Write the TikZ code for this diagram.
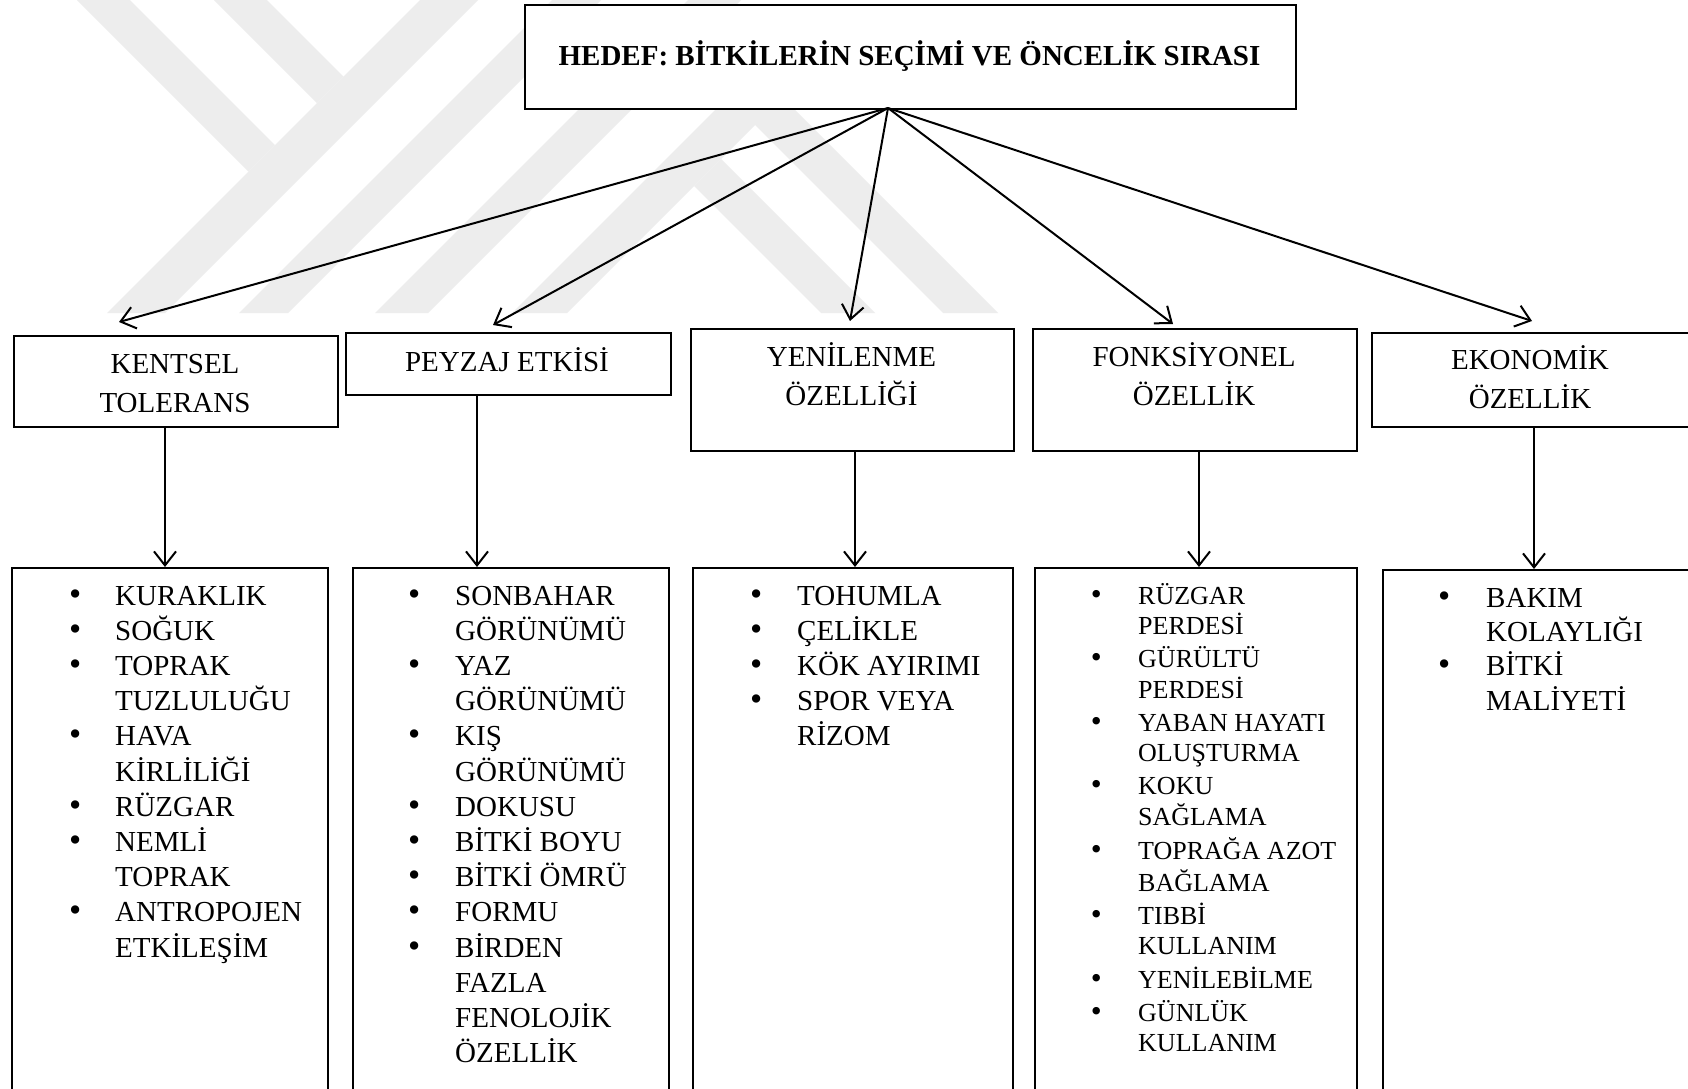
\documentclass[tikz,border=0pt]{standalone}
\usepackage{fontspec}
\usepackage{graphicx}
\setmainfont{Liberation Serif}
\usetikzlibrary{arrows.meta}
\newcommand\bu[1]{\makebox[0pt]{\scalebox{1.2}{\textbullet}}\hspace*{#1}}
\newcommand\ind[1]{\hspace*{#1}}
\tikzset{
  box/.style={draw, line width=2.1pt, fill=white, inner sep=0pt},
  conn/.style={line width=2pt, -{Straight Barb[length=14pt,width=22pt]}},
  wm/.style={fill=black!7, draw=none},
  lbl/.style={inner sep=0pt, anchor=base, font=\fontsize{29}{39}\selectfont},
  ttl/.style={inner sep=0pt, anchor=base, font=\bfseries\fontsize{29}{35}\selectfont},
  lst/.style={inner sep=0pt, anchor=base west, font=\fontsize{29}{35.2}\selectfont},
  lsts/.style={inner sep=0pt, anchor=base west, font=\fontsize{26}{30.2}\selectfont},
}
\begin{document}
\begin{tikzpicture}[x=1pt,y=-1pt]
\useasboundingbox (0,0) rectangle (1688,1088);
\fill[white] (0,0) rectangle (1688,1088);
% watermark
\fill[wm] (77,0) -- (130,0) -- (275,145) -- (248.5,171.5) -- cycle;
\fill[wm] (214,0) -- (267,0) -- (343.5,76.5) -- (317,103) -- cycle;
\fill[wm] (420,0) -- (478,0) -- (165,313) -- (107,313) -- cycle;
\fill[wm] (552,0) -- (601,0) -- (288,313) -- (239,313) -- cycle;
\fill[wm] (688,0) -- (741,0) -- (428,313) -- (375,313) -- cycle;
\fill[wm] (512,313) -- (755,70) -- (998,313) -- (943,313) -- (755,125) -- (567,313) -- cycle;
\fill[wm] (694,186) -- (721,159) -- (875,313) -- (821,313) -- cycle;

% top box
\node[box, anchor=north west, minimum width=771pt, minimum height=104pt] (top) at (524,4) {};
\node[ttl] (title) at (909.5,65) {HEDEF: BİTKİLERİN SEÇİMİ VE ÖNCELİK SIRASI};

% middle boxes
\node[box, anchor=north west, minimum width=324pt, minimum height=91pt] (m1) at (13,335) {};
\node[box, anchor=north west, minimum width=325pt, minimum height=62pt] (m2) at (345,332) {};
\node[box, anchor=north west, minimum width=323pt, minimum height=122pt] (m3) at (690,328) {};
\node[box, anchor=north west, minimum width=324pt, minimum height=122pt] (m4) at (1032,328) {};
\node[box, anchor=north west, minimum width=340pt, minimum height=94pt] (m5) at (1371,332) {};

\node[lbl] (l1) at (175,373) {\begin{tabular}[t]{@{}c@{}}KENTSEL\\TOLERANS\end{tabular}};
\node[lbl] (l2) at (507,371) {PEYZAJ ETKİSİ};
\node[lbl] (l3) at (851.5,366) {\begin{tabular}[t]{@{}c@{}}YENİLENME\\ÖZELLİĞİ\end{tabular}};
\node[lbl] (l4) at (1194,366) {\begin{tabular}[t]{@{}c@{}}FONKSİYONEL\\ÖZELLİK\end{tabular}};
\node[lbl] (l5) at (1530,369) {\begin{tabular}[t]{@{}c@{}}EKONOMİK\\ÖZELLİK\end{tabular}};

% bottom boxes
\node[box, anchor=north west, minimum width=316pt, minimum height=640pt] (b1) at (11,567) {};
\node[box, anchor=north west, minimum width=316pt, minimum height=640pt] (b2) at (352,567) {};
\node[box, anchor=north west, minimum width=320pt, minimum height=640pt] (b3) at (692,567) {};
\node[box, anchor=north west, minimum width=322pt, minimum height=640pt] (b4) at (1034,567) {};
\node[box, anchor=north west, minimum width=330pt, minimum height=640pt] (b5) at (1382,569) {};

% lists
\node[lst] (k1) at (75,605) {\begin{tabular}[t]{@{}l@{}}
\bu{40pt}KURAKLIK\\
\bu{40pt}SOĞUK\\
\bu{40pt}TOPRAK\\
\ind{40pt}TUZLULUĞU\\
\bu{40pt}HAVA\\
\ind{40pt}KİRLİLİĞİ\\
\bu{40pt}RÜZGAR\\
\bu{40pt}NEMLİ\\
\ind{40pt}TOPRAK\\
\bu{40pt}ANTROPOJEN\\
\ind{40pt}ETKİLEŞİM
\end{tabular}};

\node[lst] (k2) at (414,605) {\begin{tabular}[t]{@{}l@{}}
\bu{41pt}SONBAHAR\\
\ind{41pt}GÖRÜNÜMÜ\\
\bu{41pt}YAZ\\
\ind{41pt}GÖRÜNÜMÜ\\
\bu{41pt}KIŞ\\
\ind{41pt}GÖRÜNÜMÜ\\
\bu{41pt}DOKUSU\\
\bu{41pt}BİTKİ BOYU\\
\bu{41pt}BİTKİ ÖMRÜ\\
\bu{41pt}FORMU\\
\bu{41pt}BİRDEN\\
\ind{41pt}FAZLA\\
\ind{41pt}FENOLOJİK\\
\ind{41pt}ÖZELLİK
\end{tabular}};

\node[lst] (k3) at (756,605) {\begin{tabular}[t]{@{}l@{}}
\bu{41pt}TOHUMLA\\
\bu{41pt}ÇELİKLE\\
\bu{41pt}KÖK AYIRIMI\\
\bu{41pt}SPOR VEYA\\
\ind{41pt}RİZOM
\end{tabular}};

\node[lsts] (k4) at (1096,604) {\begin{tabular}[t]{@{}l@{}}
\bu{42pt}RÜZGAR\\
\ind{42pt}PERDESİ\\[3pt]
\bu{42pt}GÜRÜLTÜ\\
\ind{42pt}PERDESİ\\[3pt]
\bu{42pt}YABAN HAYATI\\
\ind{42pt}OLUŞTURMA\\[3pt]
\bu{42pt}KOKU\\
\ind{42pt}SAĞLAMA\\[3pt]
\bu{42pt}TOPRAĞA AZOT\\
\ind{42pt}BAĞLAMA\\[3pt]
\bu{42pt}TIBBİ\\
\ind{42pt}KULLANIM\\[3pt]
\bu{42pt}YENİLEBİLME\\[3pt]
\bu{42pt}GÜNLÜK\\
\ind{42pt}KULLANIM
\end{tabular}};

\node[lst, font=\fontsize{29}{34}\selectfont] (k5) at (1444,607) {\begin{tabular}[t]{@{}l@{}}
\bu{42pt}BAKIM\\
\ind{42pt}KOLAYLIĞI\\
\bu{42pt}BİTKİ\\
\ind{42pt}MALİYETİ
\end{tabular}};

% connectors from goal
\coordinate (hub) at (888,108);
\coordinate (t1) at (119,322);
\coordinate (t2) at (493,325);
\coordinate (t3) at (850,321);
\coordinate (t4) at (1173,324);
\coordinate (t5) at (1532,321);
\draw[conn] (hub) -- (t1);
\draw[conn] (hub) -- (t2);
\draw[conn] (hub) -- (t3);
\draw[conn] (hub) -- (t4);
\draw[conn] (hub) -- (t5);

% vertical connectors
\coordinate (v1) at (165,0);
\coordinate (v2) at (477,0);
\coordinate (v3) at (855,0);
\coordinate (v4) at (1199,0);
\coordinate (v5) at (1534,0);
\draw[conn] (m1.south -| v1) -- (b1.north -| v1);
\draw[conn] (m2.south -| v2) -- (b2.north -| v2);
\draw[conn] (m3.south -| v3) -- (b3.north -| v3);
\draw[conn] (m4.south -| v4) -- (b4.north -| v4);
\draw[conn] (m5.south -| v5) -- (b5.north -| v5);
\end{tikzpicture}
\end{document}
